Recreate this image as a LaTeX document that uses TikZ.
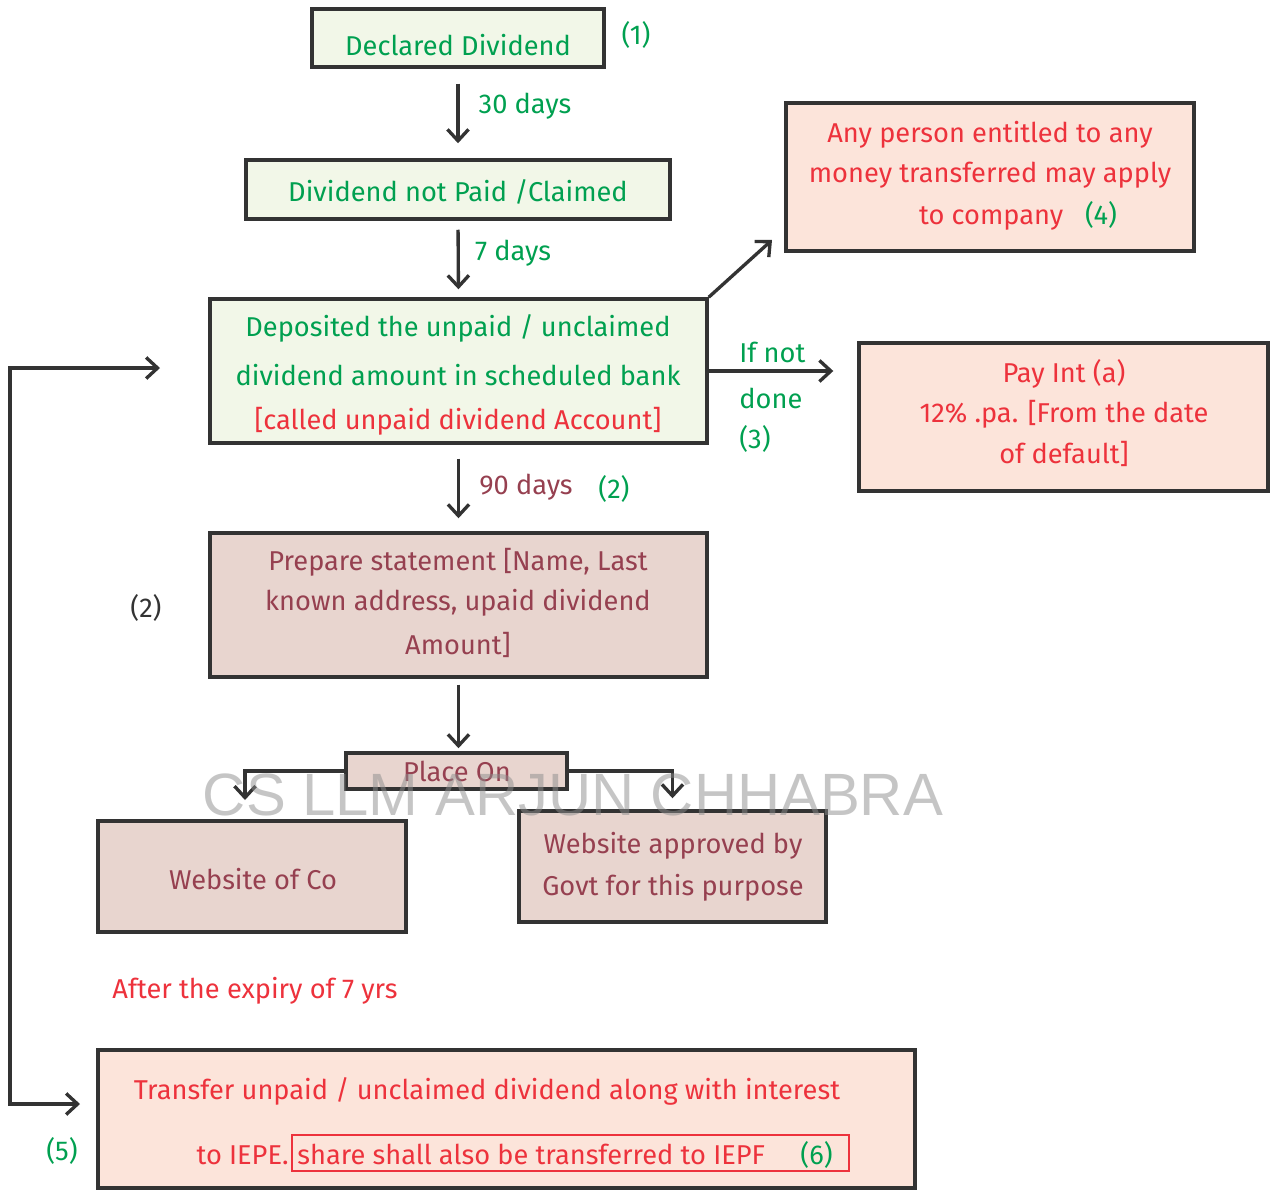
\documentclass[tikz,border=0pt]{standalone}
\usepackage{fontspec}
\setmainfont{Fira Sans}
\usetikzlibrary{arrows.meta}
\definecolor{cgreen}{RGB}{0,160,80}
\definecolor{cred}{RGB}{237,50,60}
\definecolor{cmar}{RGB}{150,64,80}
\definecolor{cgfill}{RGB}{242,247,232}
\definecolor{cpfill}{RGB}{252,228,218}
\definecolor{cmfill}{RGB}{232,213,207}
\definecolor{cborder}{RGB}{51,51,51}
\begin{document}
\begin{tikzpicture}[x=0.02cm,y=-0.02cm,
  box/.style={draw=cborder, line width=2pt, inner sep=0pt},
  gbox/.style={box, fill=cgfill},
  pbox/.style={box, fill=cpfill},
  mbox/.style={box, fill=cmfill},
  txt/.style={font=\fontsize{15.5}{18}\selectfont, inner sep=0pt},
  tip/.tip={Straight Barb[length=6.5pt,width=12pt]},
  arr/.style={draw=cborder, line width=1.9pt, -tip},
  barbs/.style={draw=cborder, line width=1.9pt, tip-tip},
]
\useasboundingbox (0,0) rectangle (1272,1190);
% boxes
\node[gbox, minimum width=5.84cm, minimum height=1.16cm] (dd) at (458,38) {};
\node[gbox, minimum width=8.48cm, minimum height=1.18cm] (dnp) at (458,189.5) {};
\node[gbox, minimum width=9.94cm, minimum height=2.88cm] (dep) at (458.5,371) {};
\node[pbox, minimum width=8.16cm, minimum height=2.96cm] (any) at (990,177) {};
\node[pbox, minimum width=8.18cm, minimum height=2.96cm] (pay) at (1063.5,417) {};
\node[mbox, minimum width=9.94cm, minimum height=2.88cm] (prep) at (458.5,605) {};
\node[mbox, minimum width=4.42cm, minimum height=0.72cm] (place) at (456.5,771) {};
\node[mbox, minimum width=6.16cm, minimum height=2.22cm] (wco) at (252,876.5) {};
\node[mbox, minimum width=6.14cm, minimum height=2.22cm] (wgov) at (672.5,866.5) {};
\node[pbox, minimum width=16.34cm, minimum height=2.76cm] (tr) at (506.5,1119) {};
\node[draw=cred, line width=0.8pt, minimum width=11.14cm, minimum height=0.72cm, inner sep=0pt] (ir) at (570.5,1153) {};
% texts
\node[txt, cgreen] (t1) at (458,45) {Declared Dividend};
\node[txt, cgreen] (n1) at (636,35) {(1)};
\node[txt, cgreen] (l30) at (525,106) {30 days};
\node[txt, cgreen] (t2) at (458,192) {Dividend not Paid /Claimed};
\node[txt, cgreen] (l7) at (513,253) {7 days};
\node[txt, cgreen] (t3a) at (458,328) {Deposited the unpaid / unclaimed};
\node[txt, cgreen] (t3b) at (458,375) {dividend amount in scheduled bank};
\node[txt, cred] (t3c) at (458,421) {[called unpaid dividend Account]};
\node[txt, cgreen, anchor=west] (ln1) at (739,352) {If not};
\node[txt, cgreen, anchor=west] (ln2) at (739,398) {done};
\node[txt, cgreen, anchor=west] (ln3) at (739,439) {(3)};
\node[txt, cred] (t4a) at (990,135) {Any person entitled to any};
\node[txt, cred] (t4b) at (990,175) {money transferred may apply};
\node[txt, cred] (t4c) at (1018,216) {to company\hspace{0.8em}\textcolor{cgreen}{(4)}};
\node[txt, cred] (t5a) at (1064,374) {Pay Int (a)};
\node[txt, cred] (t5b) at (1064,414) {12\% .pa. [From the date};
\node[txt, cred] (t5c) at (1064,454) {of default]};
\node[txt, cmar] (l90) at (526,487) {90 days};
\node[txt, cgreen] (n2) at (614,489) {(2)};
\node[txt, cmar] (t6a) at (458,562) {Prepare statement [Name, Last};
\node[txt, cmar] (t6b) at (458,603) {known address, upaid dividend};
\node[txt, cmar] (t6c) at (458,645) {Amount]};
\node[txt, cborder] (n2b) at (146,608) {(2)};
\node[txt, cmar] (t7) at (457,771) {Place On};
\node[txt, cmar] (t8) at (253,879) {Website of Co};
\node[txt, cmar] (t9a) at (673,846) {Website approved by};
\node[txt, cmar] (t9b) at (673,888) {Govt for this purpose};
\node[txt, cred] (t10) at (255,991) {After the expiry of 7 yrs};
\node[txt, cred] (t11a) at (487,1091) {Transfer unpaid / unclaimed dividend along with interest};
\node[txt, cred, anchor=east] (t11b) at (289,1155) {to IEPE.};
\node[txt, cred, anchor=west] (t11c) at (297,1155) {share shall also be transferred to IEPF\hspace{1.3em}\textcolor{cgreen}{(6)}};
\node[txt, cgreen] (n5) at (62,1151) {(5)};
% connectors
\draw[arr, shorten <=0.3cm, shorten >=0.3cm] (dd.south) -- (dnp.north);
\draw[arr, shorten <=0.18cm, shorten >=0.16cm] (dnp.south) -- (dep.north);
\draw[arr, shorten <=0.28cm, shorten >=0.26cm] (dep.south) -- (prep.north);
\draw[arr, shorten <=0.12cm, shorten >=0.06cm] (prep.south) -- (prep.south |- place.north);
\coordinate (diag) at (772,240);
\draw[arr] (dep.north east) -- (diag);
\draw[arr, shorten >=0.48cm] (dep.east) -- (pay.west |- dep.east);
\coordinate (lft) at (245,800);
\draw[arr] (place.west) -| (lft);
\draw[arr, shorten >=0.22cm] (place.east) -| (wgov.north);
\coordinate (la) at (160,368);
\coordinate (lc1) at (10,368);
\coordinate (lc2) at (10,1104);
\coordinate (lb) at (80,1104);
\draw[barbs] (la) -- (lc1) -- (lc2) -- (lb);
% watermark
\node[inner sep=0pt, text=black!45, opacity=0.5, font=\fontspec{Liberation Sans}\fontsize{34}{40}\selectfont] (wm) at (573,795) {CS LLM ARJUN CHHABRA};
\end{tikzpicture}
\end{document}
